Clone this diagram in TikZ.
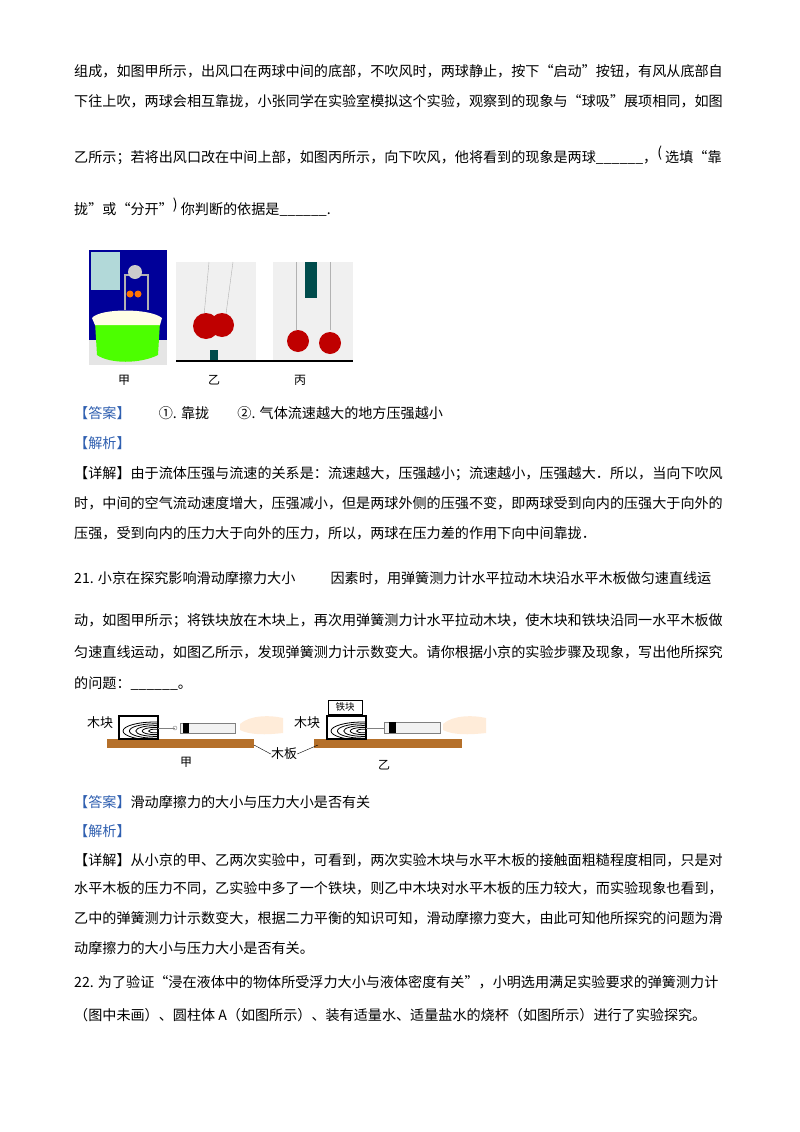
\documentclass[tikz,border=0pt]{standalone}
\usepackage{fontspec}
\newfontfamily\cjk{Noto Sans CJK SC}
\begin{document}
\begin{tikzpicture}[x=1pt,y=-1pt,
  ln/.style={anchor=base west,inner sep=0pt,font=\cjk\fontsize{14.1}{15}\selectfont},
  lab/.style={anchor=center,inner sep=0pt,font=\cjk\fontsize{12}{13}\selectfont}]
\useasboundingbox (0,0) rectangle (800,1132);
\fill[white] (0,0) rectangle (800,1132);
\definecolor{ans}{HTML}{2F5FB0}
\definecolor{wood}{HTML}{B5702A}
\node[ln] (l1) at (74,77) {组成，如图甲所示，出风口在两球中间的底部，不吹风时，两球静止，按下“启动”按钮，有风从底部自};
\node[ln] (l2) at (74,106) {下往上吹，两球会相互靠拢，小张同学在实验室模拟这个实验，观察到的现象与“球吸”展项相同，如图};
\node[ln] (l3) at (74,162) {乙所示；若将出风口改在中间上部，如图丙所示，向下吹风，他将看到的现象是两球\_\_\_\_\_\_，\raisebox{5pt}{(} 选填“靠};
\node[ln] (l4) at (74,214) {拢”或“分开”\raisebox{5pt}{)} 你判断的依据是\_\_\_\_\_\_.};
% photos
\fill[blue!60!black] (89,250) rectangle (167,365);
\fill[teal!30] (91,252) rectangle (120,290);
\fill[gray!20] (89,340) rectangle (167,365);
\fill[green!60!lime] (95,322) -- (160,322) -- (158,355) .. controls (140,364) and (110,364) .. (97,355) -- cycle;
\fill[white!90!yellow] (92,318) .. controls (100,308) and (150,308) .. (162,318) -- (160,325) -- (95,325) -- cycle;
\draw[gray!60,line width=1.5pt] (125,310) -- (125,275) -- (148,275) -- (148,310);
\fill[gray!40] (135,272) circle (7);
\fill[orange!90!red] (130,294) circle (3.5) (138,294) circle (3.5);
\fill[gray!12] (176,262) rectangle (256,360);
\draw[gray!60] (209,262) -- (204,316) (233,262) -- (226,314);
\fill[red!75!black] (206,326) circle (13) (222,325) circle (12);
\fill[teal!60!black] (210,350) rectangle (218,360);
\fill[gray!12] (273,262) rectangle (353,360);
\fill[teal!60!black] (305,262) rectangle (317,298);
\draw[gray!60] (296,262) -- (296,330) (330,262) -- (330,330);
\fill[red!75!black] (298,341) circle (11) (330,343) circle (11);
\draw[line width=1.2pt] (176,361) -- (353,361);
\node[lab] (ja) at (124,380) {甲};
\node[lab] (yi) at (214,380) {乙};
\node[lab] (bi) at (300,380) {丙};
\node[ln] (a1) at (74,418) {\textcolor{ans}{【答案】}\hspace{2em}①. 靠拢\hspace{2em}②. 气体流速越大的地方压强越小};
\node[ln] (a2) at (74,448) {\textcolor{ans}{【解析】}};
\node[ln] (a3) at (74,478) {【详解】由于流体压强与流速的关系是：流速越大，压强越小；流速越小，压强越大．所以，当向下吹风};
\node[ln] (a4) at (74,508) {时，中间的空气流动速度增大，压强减小，但是两球外侧的压强不变，即两球受到向内的压强大于向外的};
\node[ln] (a5) at (74,538) {压强，受到向内的压力大于向外的压力，所以，两球在压力差的作用下向中间靠拢．};
\node[ln] (q1) at (74,583) {21. 小京在探究影响滑动摩擦力大小\hspace{2.5em}因素时，用弹簧测力计水平拉动木块沿水平木板做匀速直线运};
\node[ln] (q2) at (74,625) {动，如图甲所示；将铁块放在木块上，再次用弹簧测力计水平拉动木块，使木块和铁块沿同一水平木板做};
\node[ln] (q3) at (74,657) {匀速直线运动，如图乙所示，发现弹簧测力计示数变大。请你根据小京的实验步骤及现象，写出他所探究};
\node[ln] (q4) at (74,688) {的问题：\_\_\_\_\_\_。};
% friction figure
\fill[wood] (107,739) rectangle (254,748);
\fill[wood] (314,739) rectangle (462,748);
\foreach \bx in {119,327}{
  \draw[line width=1pt,fill=white] (\bx,716) rectangle (\bx+39,739);
  \begin{scope}
  \clip (\bx,716) rectangle (\bx+39,739);
  \foreach \r in {4,8,12,16,20}{\draw[line width=0.8pt] (\bx+36,731) ellipse ({\r*1.6} and {\r*0.45});}
  \end{scope}
  \draw[line width=1.2pt] (\bx,716) rectangle (\bx+39,739);
}
\draw[gray] (158,728) -- (175,728);
\draw[gray] (175,728) circle (2);
\draw[gray,fill=gray!10] (180,723) rectangle (235,733);
\fill[black] (183,723) rectangle (189,733);
\draw[gray] (366,728) -- (384,728);
\draw[gray,fill=gray!10] (384,722) rectangle (440,733);
\fill[black] (389,722) rectangle (396,733);
\fill[orange!15] (240,724) .. controls (250,715) and (270,715) .. (283,718) -- (283,733) .. controls (265,735) and (250,735) .. (240,730) -- cycle;
\fill[orange!15] (443,724) .. controls (453,715) and (473,715) .. (486,718) -- (486,733) .. controls (468,735) and (453,735) .. (443,730) -- cycle;
\draw (328,700) rectangle (362,714);
\node[lab,font=\cjk\fontsize{9.5}{10}\selectfont] (tk) at (345,707) {铁块};
\node[lab,font=\cjk\fontsize{13}{14}\selectfont] (mk1) at (100,723) {木块};
\node[lab,font=\cjk\fontsize{13}{14}\selectfont] (mk2) at (307,723) {木块};
\node[lab,font=\cjk\fontsize{13}{14}\selectfont] (mb) at (284,754) {木板};
\coordinate (b1) at (254,745);
\coordinate (b2) at (318,745);
\draw (mb.west) -- (b1);
\draw (mb.east) -- (b2);
\node[lab] (fj) at (186,762) {甲};
\node[lab] (fy) at (384,765) {乙};
\node[ln] (b1t) at (74,807) {\textcolor{ans}{【答案】}滑动摩擦力的大小与压力大小是否有关};
\node[ln] (b2t) at (74,836) {\textcolor{ans}{【解析】}};
\node[ln] (b3) at (74,865) {【详解】从小京的甲、乙两次实验中，可看到，两次实验木块与水平木板的接触面粗糙程度相同，只是对};
\node[ln] (b4) at (74,893) {水平木板的压力不同，乙实验中多了一个铁块，则乙中木块对水平木板的压力较大，而实验现象也看到，};
\node[ln] (b5) at (74,923) {乙中的弹簧测力计示数变大，根据二力平衡的知识可知，滑动摩擦力变大，由此可知他所探究的问题为滑};
\node[ln] (b6) at (74,953) {动摩擦力的大小与压力大小是否有关。};
\node[ln] (c1) at (74,987) {22. 为了验证“浸在液体中的物体所受浮力大小与液体密度有关”，小明选用满足实验要求的弹簧测力计};
\node[ln] (c2) at (74,1020) {（图中未画）、圆柱体 A（如图所示）、装有适量水、适量盐水的烧杯（如图所示）进行了实验探究。};
\end{tikzpicture}
\end{document}
